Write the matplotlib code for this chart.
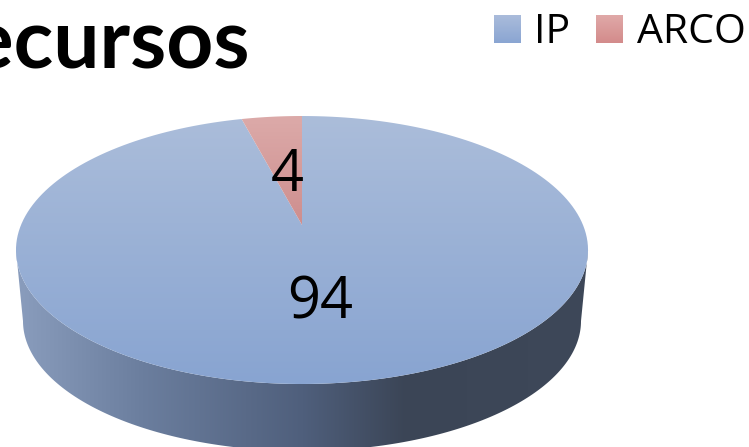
import numpy as np
import matplotlib.pyplot as plt
from matplotlib.colors import LinearSegmentedColormap
from matplotlib.patches import Polygon, Rectangle

categories = ['IP', 'ARCO']
values = [94, 4]
title = 'Recursos'

# perspective of the tilted disc, in pixels of the picture
cx, cy = 302, 250
k = 0.1866
def project(u, v):
    d = 1 + k * v
    return cx + 281 * u / d, cy - (134 * v + 25) / d

def gradient(ax, colors, extent, clip, horizontal=False, stops=None):
    if stops is None:
        stops = np.linspace(0, 1, len(colors))
    cmap = LinearSegmentedColormap.from_list('g', list(zip(stops, colors)))
    ramp = np.linspace(0, 1, 256)
    ramp = ramp.reshape(1, -1) if horizontal else ramp.reshape(-1, 1)
    im = ax.imshow(ramp, cmap=cmap, extent=extent, origin='upper' if not horizontal else 'lower',
                   aspect='auto', interpolation='bilinear')
    clip.set_transform(ax.transData)
    im.set_clip_path(clip)

fig = plt.figure(figsize=(7.49, 4.47), dpi=100)
ax = fig.add_axes([0, 0, 1, 1])
wedges, _ = ax.pie(values, startangle=90, counterclock=False)
ax.set_aspect('auto')
for w in wedges:
    w.set_visible(False)

# side wall, from the widest points of the top outline down to the lower rim
t = np.linspace(np.pi + np.arcsin(k), 2 * np.pi - np.arcsin(k), 200)
top_x, top_y = project(np.cos(t), np.sin(t))
t2 = np.linspace(np.pi, 2 * np.pi, 200)
low_x = 302 + 279 * np.cos(t2)
low_y = 321 - 130 * np.sin(t2)
wall = np.column_stack([np.r_[top_x, low_x[::-1]], np.r_[top_y, low_y[::-1]]])
gradient(ax, ['#8a9dbd', '#6b7e9e', '#4f5f7c', '#3b4556', '#3e4859'], [16, 590, 447, 240],
         Polygon(wall), horizontal=True, stops=[0, 0.22, 0.5, 0.68, 1])

# top of the pie, one polygon per slice
slice_colors = [['#abbdda', '#88a4d1'], ['#dcaaa9', '#ce8e8e']]
for w, cols in zip(wedges, slice_colors):
    a = np.radians(np.linspace(w.theta1, w.theta2, 200))
    x, y = project(np.r_[0, np.cos(a)], np.r_[0, np.sin(a)])
    extent = [x.min(), x.max(), y.max(), y.min()]
    gradient(ax, cols, extent, Polygon(np.column_stack([x, y])))

ax.text(320, 303, str(values[0]), fontsize=41.5, family='Open Sans', ha='center', va='center')
ax.text(287, 176, str(values[1]), fontsize=41.5, family='Open Sans', ha='center', va='center')

ax.text(250, 68, title, fontsize=59, fontweight='bold', family='Lato', ha='right', va='baseline')

# legend
legend_x = [494, 596]
legend_text_x = [534, 637]
legend_colors = [['#aabcdb', '#8aa5d2'], ['#e0a9a8', '#d38b8b']]
for name, sx, tx, cols in zip(categories, legend_x, legend_text_x, legend_colors):
    gradient(ax, cols, [sx, sx + 27, 43, 15], Rectangle((sx, 15), 27, 28))
    ax.text(tx, 43, name, fontsize=29.5, family='Open Sans', ha='left', va='baseline')

ax.set_xlim(0, 749)
ax.set_ylim(447, 0)
ax.axis('off')
fig.savefig('out.png', dpi=100)
